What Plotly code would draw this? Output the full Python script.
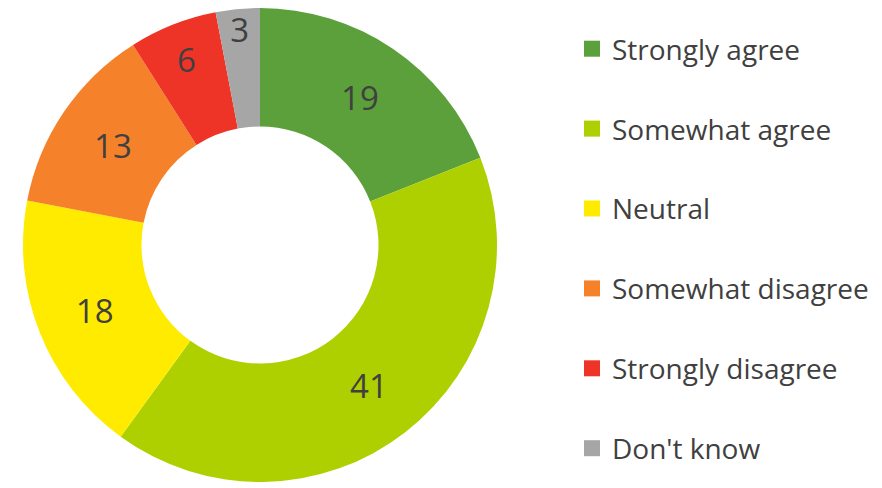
import plotly.graph_objects as go

categories = ["Strongly agree", "Somewhat agree", "Neutral",
              "Somewhat disagree", "Strongly disagree", "Don't know"]
values = [19, 41, 18, 13, 6, 3]
colors = ["#5CA03B", "#AED000", "#FFEB00", "#F5822A", "#EE3427", "#A6A6A6"]

W, H = 882, 488
cx, cy, R = 252, 237, 237

fig = go.Figure()
fig.add_trace(go.Pie(
    labels=categories, values=values, sort=False, direction="clockwise",
    rotation=0, hole=0.5, showlegend=False,
    marker=dict(colors=colors, line=dict(width=0)),
    textinfo="value", textposition="inside", insidetextorientation="horizontal",
    textfont=dict(family="Open Sans", size=33, color="#404040"),
    domain=dict(x=[max(0, (cx - R) / W), min(1, (cx + R) / W)],
                y=[max(0, (H - cy - R) / H), min(1, (H - cy + R) / H)]),
))

for i, (c, col) in enumerate(zip(categories, colors)):
    fig.add_trace(go.Scatter(
        x=[None], y=[None], mode="markers", name=c, legendgroup=c,
        marker=dict(symbol="square", size=16, color=col),
    ))

fig.update_layout(
    width=W, height=H, margin=dict(l=0, r=0, t=0, b=0),
    paper_bgcolor="white", plot_bgcolor="white",
    xaxis=dict(visible=False), yaxis=dict(visible=False),
    showlegend=True,
    uniformtext=dict(minsize=33, mode="show"),
    legend=dict(x=564 / W, xanchor="left", y=1 - 16 / H, yanchor="top",
                font=dict(family="Open Sans", size=28, color="#404040"),
                tracegroupgap=40.5, itemsizing="trace", bgcolor="rgba(0,0,0,0)"),
)

fig.write_html("out.html")
